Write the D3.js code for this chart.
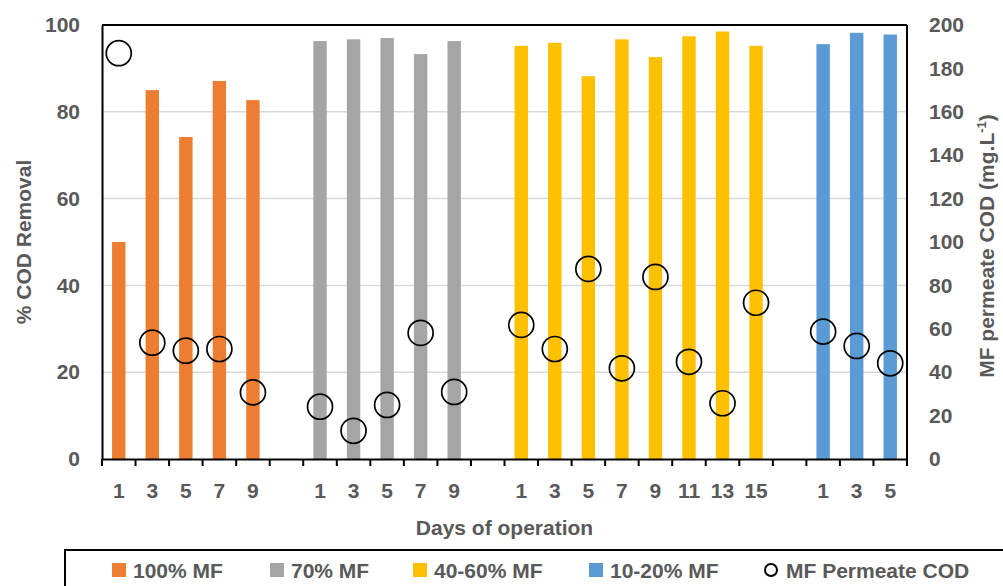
<!DOCTYPE html>
<html>
<head>
  <title>COD Removal</title>
  <style>
    body { margin: 0; background: #fff; }
    text { font-family: "Liberation Sans", Arial, sans-serif; font-weight: bold; fill: #595959; }
  </style>
</head>
<body>
  <div id="chart"></div>
  <script src="https://d3js.org/d3.v7.min.js"></script>
  <script>
    // Data
    const groupNames = ["100% MF", "70% MF", "40-60% MF", "10-20% MF"];
    const groupColors = ["#ED7D31", "#A5A5A5", "#FFC000", "#5B9BD5"];

    const days100 = [1, 3, 5, 7, 9];
    const removal100 = [50, 85, 74.2, 87.1, 82.7];
    const cod100 = [187, 53.6, 49.9, 50.7, 30.7];

    const days70 = [1, 3, 5, 7, 9];
    const removal70 = [96.3, 96.7, 97.0, 93.3, 96.3];
    const cod70 = [24.1, 13.0, 24.9, 58.1, 30.9];

    const days4060 = [1, 3, 5, 7, 9, 11, 13, 15];
    const removal4060 = [95.2, 95.9, 88.2, 96.7, 92.6, 97.4, 98.5, 95.2];
    const cod4060 = [61.8, 50.7, 87.6, 41.8, 83.9, 44.8, 25.7, 72.0];

    const days1020 = [1, 3, 5];
    const removal1020 = [95.6, 98.2, 97.8];
    const cod1020 = [58.7, 52.1, 44.1];

    const leftTicks = [0, 20, 40, 60, 80, 100];
    const rightTicks = [0, 20, 40, 60, 80, 100, 120, 140, 160, 180, 200];

    // Build category slots (with an empty slot between groups)
    const groupData = [
      [days100, removal100, cod100],
      [days70, removal70, cod70],
      [days4060, removal4060, cod4060],
      [days1020, removal1020, cod1020]
    ];
    const slots = [];
    groupData.forEach((g, gi) => {
      g[0].forEach((day, i) => {
        slots.push({ key: gi + "-" + day, day: day, group: gi, removal: g[1][i], cod: g[2][i] });
      });
      if (gi < groupData.length - 1) slots.push({ key: "gap" + gi, day: "", group: -1 });
    });
    const points = slots.filter(d => d.group >= 0);

    const width = 1003, height = 586;
    const plotLeft = 102, plotRight = 907, plotTop = 25, plotBottom = 459;

    const svg = d3.select("#chart").append("svg")
      .attr("width", width)
      .attr("height", height);

    const x = d3.scaleBand()
      .domain(slots.map(d => d.key))
      .range([plotLeft, plotRight])
      .padding(0);

    const yLeft = d3.scaleLinear().domain([0, 100]).range([plotBottom, plotTop]);
    const yRight = d3.scaleLinear().domain([0, 200]).range([plotBottom, plotTop]);

    // Gridlines
    svg.append("g")
      .selectAll("line")
      .data(leftTicks.filter(t => t > 0 && t < 100))
      .enter().append("line")
      .attr("x1", plotLeft).attr("x2", plotRight)
      .attr("y1", d => yLeft(d)).attr("y2", d => yLeft(d))
      .attr("stroke", "#d9d9d9")
      .attr("stroke-width", 1.5);

    // Bars
    const barW = x.bandwidth() * 0.4;
    svg.append("g")
      .selectAll("rect")
      .data(points)
      .enter().append("rect")
      .attr("x", d => x(d.key) + (x.bandwidth() - barW) / 2)
      .attr("width", barW)
      .attr("y", d => yLeft(d.removal))
      .attr("height", d => plotBottom - yLeft(d.removal))
      .attr("fill", d => groupColors[d.group]);

    // Frame: top and right borders
    svg.append("line")
      .attr("x1", plotLeft).attr("x2", plotRight).attr("y1", plotTop).attr("y2", plotTop)
      .attr("stroke", "#000").attr("stroke-width", 2);
    svg.append("line")
      .attr("x1", plotRight).attr("x2", plotRight).attr("y1", plotTop).attr("y2", plotBottom)
      .attr("stroke", "#000").attr("stroke-width", 2);

    // Left axis
    const gLeft = svg.append("g")
      .attr("transform", `translate(${plotLeft},0)`)
      .call(d3.axisLeft(yLeft).tickValues(leftTicks).tickSize(0).tickPadding(22));
    gLeft.select(".domain").attr("stroke", "#000").attr("stroke-width", 2);
    gLeft.selectAll("text").style("font-size", "21px").attr("fill", "#595959");

    // Right axis
    const gRight = svg.append("g")
      .attr("transform", `translate(${plotRight},0)`)
      .call(d3.axisRight(yRight).tickValues(rightTicks).tickSize(0).tickPadding(22));
    gRight.select(".domain").remove();
    gRight.selectAll("text").style("font-size", "21px").attr("fill", "#595959");

    // Bottom axis: labels at band centres, ticks at band boundaries
    const gBottom = svg.append("g")
      .attr("transform", `translate(0,${plotBottom})`)
      .call(d3.axisBottom(x).tickSize(0).tickPadding(24).tickFormat(k => slots.find(s => s.key === k).day));
    gBottom.select(".domain").attr("stroke", "#000").attr("stroke-width", 2);
    gBottom.selectAll("text").style("font-size", "21px").attr("fill", "#595959");

    const boundaries = slots.map(d => x(d.key)).concat([plotRight]);
    svg.append("g")
      .selectAll("line")
      .data(boundaries)
      .enter().append("line")
      .attr("x1", d => d).attr("x2", d => d)
      .attr("y1", plotBottom).attr("y2", plotBottom + 7)
      .attr("stroke", "#000").attr("stroke-width", 2);

    // Permeate COD circles
    svg.append("g")
      .selectAll("circle")
      .data(points)
      .enter().append("circle")
      .attr("cx", d => x(d.key) + x.bandwidth() / 2)
      .attr("cy", d => yRight(d.cod))
      .attr("r", 12.5)
      .attr("fill", "none")
      .attr("stroke", "#000")
      .attr("stroke-width", 1.7);

    // Axis titles
    svg.append("text")
      .attr("x", (plotLeft + plotRight) / 2)
      .attr("y", 535)
      .attr("text-anchor", "middle")
      .style("font-size", "21px")
      .text("Days of operation");

    svg.append("text")
      .attr("transform", `translate(31,${(plotTop + plotBottom) / 2}) rotate(-90)`)
      .attr("text-anchor", "middle")
      .style("font-size", "21px")
      .text("% COD Removal");

    const rt = svg.append("text")
      .attr("transform", `translate(994,${(plotTop + plotBottom) / 2 + 4}) rotate(-90)`)
      .attr("text-anchor", "middle")
      .style("font-size", "21px");
    rt.append("tspan").text("MF permeate COD (mg.L");
    rt.append("tspan").attr("dy", -8).style("font-size", "13px").text("-1");
    rt.append("tspan").attr("dy", 8).text(")");

    // Legend
    svg.append("rect")
      .attr("x", 65).attr("y", 550)
      .attr("width", 960).attr("height", 60)
      .attr("fill", "none")
      .attr("stroke", "#000").attr("stroke-width", 2);

    const legendX = [112, 270, 413, 589];
    const legend = svg.append("g");
    groupNames.forEach((name, i) => {
      legend.append("rect")
        .attr("x", legendX[i]).attr("y", 563)
        .attr("width", 14).attr("height", 14)
        .attr("fill", groupColors[i]);
      legend.append("text")
        .attr("x", legendX[i] + 21).attr("y", 578)
        .style("font-size", "21px")
        .text(name);
    });
    legend.append("circle")
      .attr("cx", 771).attr("cy", 570).attr("r", 6)
      .attr("fill", "none").attr("stroke", "#000").attr("stroke-width", 2);
    legend.append("text")
      .attr("x", 786).attr("y", 578)
      .style("font-size", "21px")
      .text("MF Permeate COD");
  </script>
</body>
</html>
